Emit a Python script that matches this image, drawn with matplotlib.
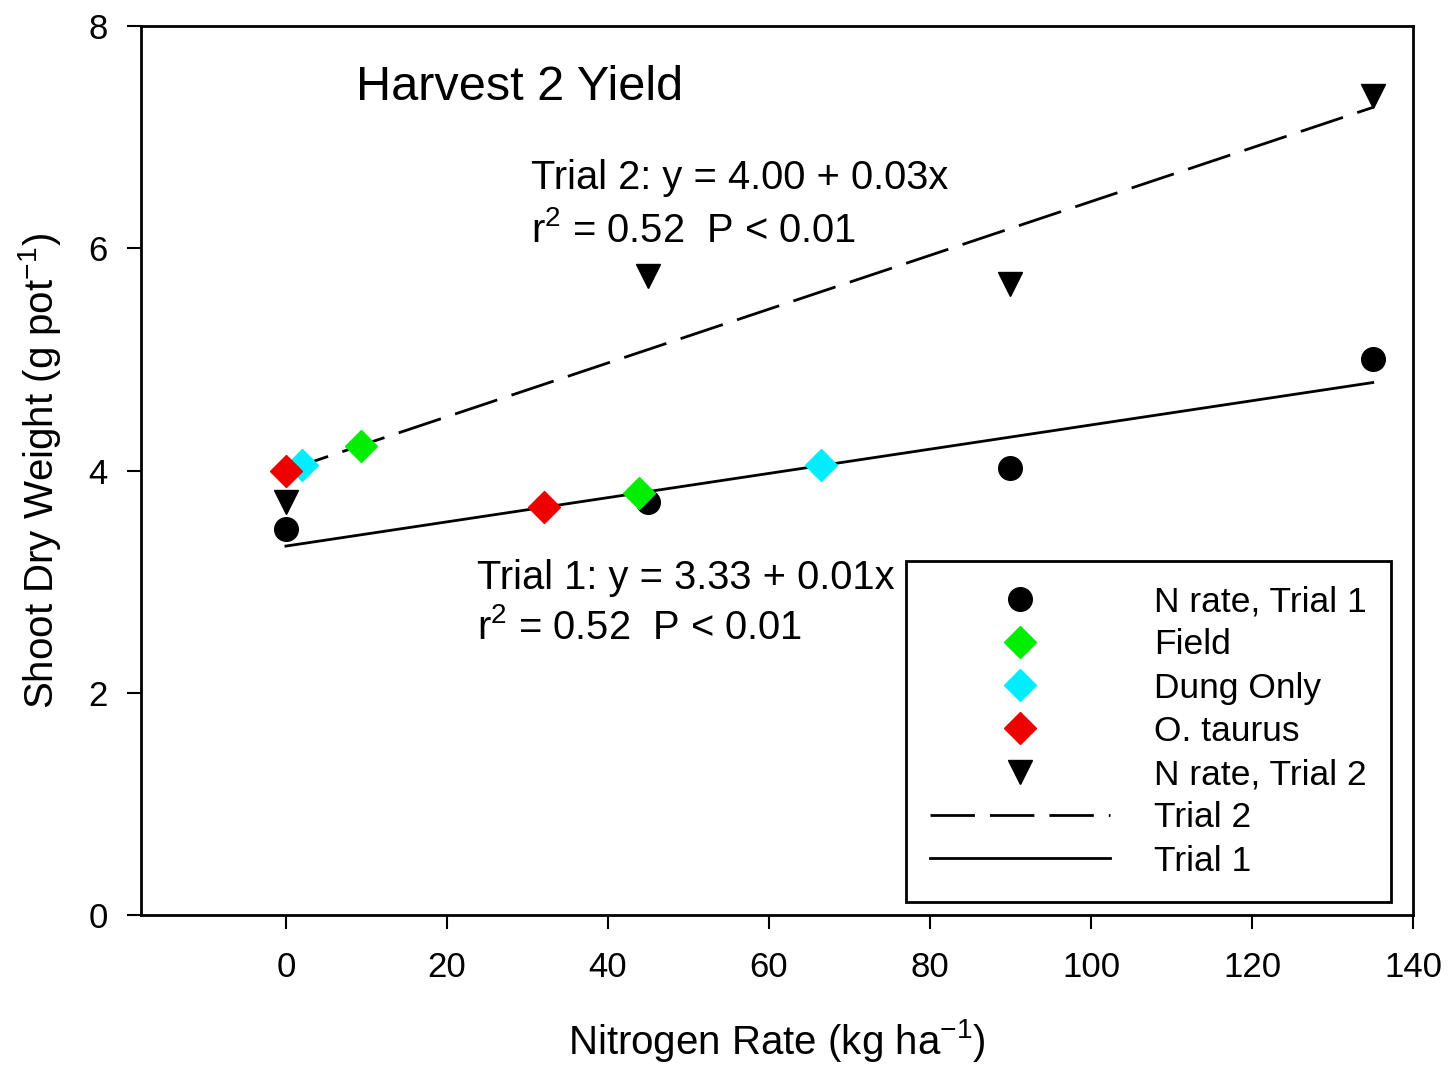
import matplotlib
matplotlib.use("Agg")
import matplotlib.pyplot as plt
from matplotlib.lines import Line2D
import numpy as np

plt.rcParams['font.family'] = ['Liberation Sans', 'DejaVu Sans']
plt.rcParams['mathtext.fontset'] = 'custom'
plt.rcParams['mathtext.rm'] = 'Liberation Sans'
plt.rcParams['mathtext.it'] = 'Liberation Sans:italic'

# Data
nrate_x = [0, 45, 90, 135]
trial1_y = [3.47, 3.72, 4.02, 5.00]
trial2_y = [3.72, 5.75, 5.68, 7.37]
field_x = [9.3, 43.8]
field_y = [4.22, 3.80]
dung_x = [2.0, 66.5]
dung_y = [4.05, 4.05]
taurus_x = [0.0, 32.0]
taurus_y = [4.00, 3.67]
# regression lines (as drawn)
line_x = [0, 135]
trial2_fit = (4.00, 0.0242)
trial1_fit = (3.32, 0.0109)

xticks = [0, 20, 40, 60, 80, 100, 120, 140]
yticks = [0, 2, 4, 6, 8]

fig = plt.figure(figsize=(14.48, 10.65), dpi=100)
ax = fig.add_axes([0.0974, 0.1408, 0.8784, 0.8348])

lx = np.array(line_x, dtype=float)
ax.plot(lx, trial2_fit[0] + trial2_fit[1] * lx, color='black', lw=2,
        dashes=(16, 5.4), zorder=2)
ax.plot(lx, trial1_fit[0] + trial1_fit[1] * lx, color='black', lw=2, zorder=2)

ax.plot(nrate_x, trial1_y, 'o', color='black', ms=17, zorder=3)
ax.plot(field_x, field_y, 'D', color='#00ee00', ms=16, zorder=3)
ax.plot(dung_x, dung_y, 'D', color='#00eeff', ms=16, zorder=3)
ax.plot(taurus_x, taurus_y, 'D', color='#ee0000', ms=16, zorder=3)
ax.plot(nrate_x, trial2_y, 'v', color='black', ms=17, zorder=3)

ax.set_xlim(-18, 140)
ax.set_ylim(0, 8)
ax.set_xticks(xticks)
ax.set_yticks(yticks)
for s in ax.spines.values():
    s.set_linewidth(2)
ax.tick_params(direction='out', length=10, width=1.5, labelsize=25)
ax.tick_params(axis='x', pad=16)
ax.tick_params(axis='y', pad=14)

ax.set_xlabel('Nitrogen Rate (kg ha$^{-1}$)', fontsize=29, labelpad=24)
ax.set_ylabel('Shoot Dry Weight (g pot$^{-1}$)', fontsize=29, labelpad=18)

ax.text(8.7, 7.33, 'Harvest 2 Yield', fontsize=35, va='baseline', ha='left')
ax.text(30.5, 6.53, 'Trial 2: y = 4.00 + 0.03x', fontsize=28.7, va='baseline')
ax.text(30.5, 6.06, 'r$^{2}$ = 0.52  P < 0.01', fontsize=28.7, va='baseline')
ax.text(23.7, 2.93, 'Trial 1: y = 3.33 + 0.01x', fontsize=28.7, va='baseline')
ax.text(23.7, 2.48, 'r$^{2}$ = 0.52  P < 0.01', fontsize=28.7, va='baseline')

handles = [
    Line2D([], [], marker='o', color='black', ls='none', ms=17),
    Line2D([], [], marker='D', color='#00ee00', ls='none', ms=16),
    Line2D([], [], marker='D', color='#00eeff', ls='none', ms=16),
    Line2D([], [], marker='D', color='#ee0000', ls='none', ms=16),
    Line2D([], [], marker='v', color='black', ls='none', ms=17),
    Line2D([], [], color='black', lw=2, dashes=(16, 5.4)),
    Line2D([], [], color='black', lw=2),
]
labels = ['N rate, Trial 1', 'Field', 'Dung Only', 'O. taurus',
          'N rate, Trial 2', 'Trial 2', 'Trial 1']
leg = ax.legend(handles, labels, loc='lower right', bbox_to_anchor=(0.9825, 0.015),
                fontsize=25.5, frameon=True, fancybox=False, edgecolor='black',
                framealpha=1, handlelength=5.08, handletextpad=1.24,
                labelspacing=0.29, borderpad=0.68, borderaxespad=0)
leg.get_frame().set_linewidth(2)

fig.savefig('out.png', dpi=100)
